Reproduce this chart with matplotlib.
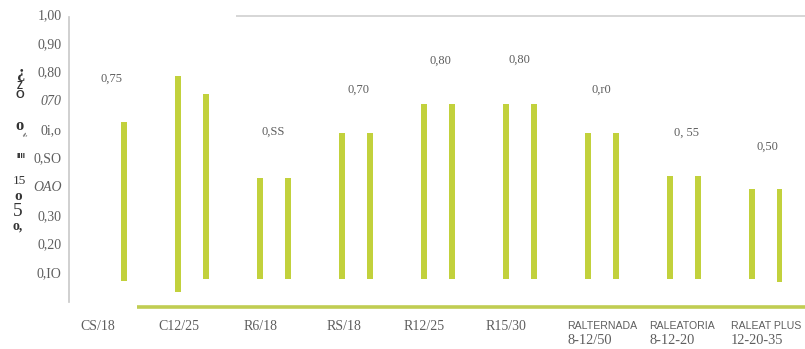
import numpy as np
import matplotlib
matplotlib.use("Agg")
import matplotlib.pyplot as plt

# Categories (two-line labels: first line, second line)
cat_line1 = ["CS/18", "C12/25", "R6/18", "RS/18", "R12/25", "R15/30",
             "RALTERNADA", "RALEATORIA", "RALEAT PLUS"]
cat_line2 = ["", "", "", "", "", "", "8-12/50", "8-12-20", "12-20-35"]

# Floating bars: tops and bases of left and right bar in each group
left_top = [np.nan, 0.784, 0.43, 0.585, 0.686, 0.686, 0.585, 0.435, 0.39]
left_base = [np.nan, 0.03, 0.077, 0.077, 0.077, 0.077, 0.077, 0.077, 0.077]
right_top = [0.624, 0.72, 0.43, 0.585, 0.686, 0.686, 0.585, 0.435, 0.39]
right_base = [0.07, 0.077, 0.077, 0.077, 0.077, 0.077, 0.077, 0.077, 0.066]

# Labels printed above each group
value_labels = ["0,75", "", "0,SS", "0,70", "0,80", "0,80", "0,r0", "0, 55", "0,50"]
value_label_y = [0.774, np.nan, 0.589, 0.735, 0.836, 0.840, 0.735, 0.586, 0.537]
value_label_dx = [0.02, 0, 0.0, 0.04, 0.04, 0.0, 0.0, 0.04, 0.02]

# Y axis ticks
y_ticks = [0.1, 0.2, 0.3, 0.4, 0.5, 0.6, 0.7, 0.8, 0.9, 1.0]
y_tick_labels = ["0,IO", "0,20", "0,30", "OAO", "0,SO", "0i,o", "070", "0,80", "0,90", "1,00"]
y_tick_italic = [False, False, False, True, False, False, True, False, False, False]

BAR = "#c2d13c"
LINE = "#c0cd52"
TXT = "#5e5e5e"
W, H = 805, 349

fig = plt.figure(figsize=(W / 100, H / 100), dpi=100)
ax = fig.add_axes([69 / W, (H - 301) / H, 736 / W, 287 / H])

x = np.arange(len(cat_line1))
off = 14 / 82
bw = 6 / 82
ax.bar(x - off, np.array(left_top) - np.array(left_base), bottom=left_base,
       width=bw, color=BAR, linewidth=0)
ax.bar(x + off, np.array(right_top) - np.array(right_base), bottom=right_base,
       width=bw, color=BAR, linewidth=0)

ax.set_xlim((69 - 109.5) / 82, (805 - 109.5) / 82)
ax.set_ylim(0, 1)

# Spines
for s in ["top", "right", "bottom"]:
    ax.spines[s].set_visible(False)
ax.spines["left"].set_color("#c8c8c8")
ax.spines["left"].set_linewidth(1.2)
ax.spines["left"].set_bounds(-0.003, 0.99)

# Reference lines
ax.hlines(0.993, (236 - 109.5) / 82, (805 - 109.5) / 82, color="#d0d0d0",
          linewidth=1.2, clip_on=False)
ax.hlines(-0.021, (137 - 109.5) / 82, (805 - 109.5) / 82, color=LINE,
          linewidth=2.6, clip_on=False)

# Y ticks
ax.set_xticks([])
ax.set_yticks(y_ticks)
ax.set_yticklabels(y_tick_labels)
ax.tick_params(axis="y", length=0, pad=5.5)
for lab, it in zip(ax.get_yticklabels(), y_tick_italic):
    lab.set_fontfamily("Liberation Serif")
    lab.set_fontsize(10)
    lab.set_color(TXT)
    if it:
        lab.set_fontstyle("italic")

# Value labels above groups
for i, (t, yy, dx) in enumerate(zip(value_labels, value_label_y, value_label_dx)):
    if t:
        ax.text(i + dx, yy, t, ha="center", va="center", fontsize=9,
                family="Liberation Serif", color=TXT, clip_on=False)

# Category labels
for i, (l1, l2) in enumerate(zip(cat_line1, cat_line2)):
    if l2:
        ax.text(i - 0.42, -0.087, l1, ha="left", va="center", fontsize=7.6,
                family="Liberation Sans", color=TXT, clip_on=False)
        ax.text(i - 0.42, -0.136, l2, ha="left", va="center", fontsize=10.4,
                family="Liberation Serif", color=TXT, clip_on=False)
    else:
        dx = [-0.146, -0.152, -0.16, -0.14, -0.165, -0.165][i]
        ax.text(i + dx, -0.089, l1, ha="center", va="center", fontsize=10,
                family="Liberation Serif", color=TXT, clip_on=False)

# Vertical axis title glyphs
def glyph(px, py, s, size, weight="normal", family="Liberation Serif", rot=0):
    fig.text(px / W, 1 - py / H, s, ha="center", va="center", fontsize=size,
             fontweight=weight, family=family, color="#333333", rotation=rot)

glyph(21, 73, "¿", 12, "bold")
glyph(20, 86, "Z", 7, "bold", "Liberation Sans")
glyph(20, 95, "O", 8, "bold", "Liberation Sans")
glyph(19, 126, "o", 12, "bold")
glyph(24, 135, "v", 6, "normal", rot=-60)
glyph(21, 157, "IIII", 6, "bold", "Liberation Sans")
glyph(19, 181, "15", 9.5)
glyph(18, 197, "o", 11, "bold")
glyph(18, 211, "5", 14)
glyph(18, 226, "o,", 10, "bold")

fig.savefig("out.png", dpi=100)
